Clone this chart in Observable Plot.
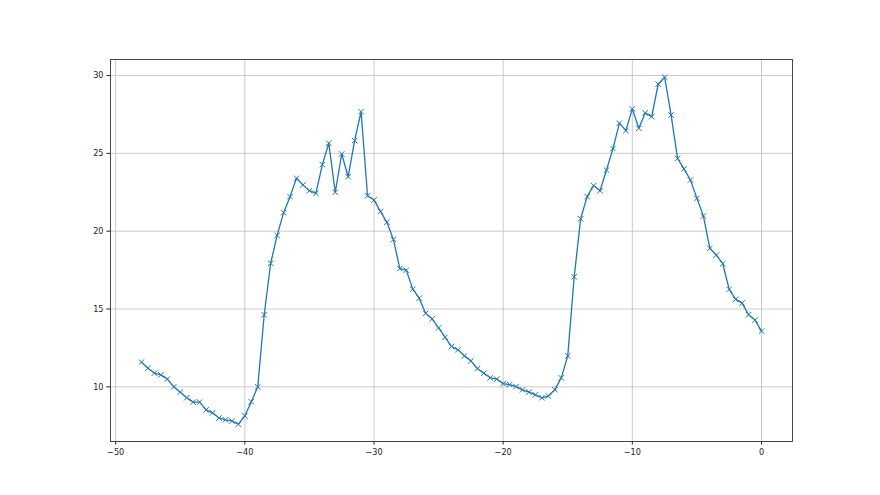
<!DOCTYPE html>
<html>
<head>
<meta charset="utf-8">
<script src="https://cdn.jsdelivr.net/npm/d3@7"></script>
<script src="https://cdn.jsdelivr.net/npm/@observablehq/plot@0.6"></script>
<style>
  html, body { margin: 0; padding: 0; background: #fff; }
  #chart { width: 880px; height: 495px; }
  #chart svg text { font-stretch: condensed; }
</style>
</head>
<body>
<div id="chart"></div>
<script>
const xValues = [
  -48, -47.5, -47, -46.5, -46, -45.5, -45, -44.5, -44, -43.5,
  -43, -42.5, -42, -41.5, -41, -40.5, -40, -39.5, -39, -38.5,
  -38, -37.5, -37, -36.5, -36, -35.5, -35, -34.5, -34, -33.5,
  -33, -32.5, -32, -31.5, -31, -30.5, -30, -29.5, -29, -28.5,
  -28, -27.5, -27, -26.5, -26, -25.5, -25, -24.5, -24, -23.5,
  -23, -22.5, -22, -21.5, -21, -20.5, -20, -19.5, -19, -18.5,
  -18, -17.5, -17, -16.5, -16, -15.5, -15, -14.5, -14, -13.5,
  -13, -12.5, -12, -11.5, -11, -10.5, -10, -9.5, -9, -8.5,
  -8, -7.5, -7, -6.5, -6, -5.5, -5, -4.5, -4, -3.5,
  -3, -2.5, -2, -1.5, -1, -0.5, 0
];
const yValues = [
  11.59, 11.2, 10.88, 10.77, 10.5, 10.0, 9.66, 9.3, 9.02, 9.02,
  8.52, 8.33, 8.0, 7.88, 7.81, 7.6, 8.14, 9.04, 10.0, 14.63,
  17.94, 19.73, 21.19, 22.22, 23.4, 22.97, 22.6, 22.43, 24.28, 25.65,
  22.5, 24.96, 23.5, 25.82, 27.68, 22.28, 22.0, 21.27, 20.57, 19.47,
  17.6, 17.5, 16.28, 15.7, 14.72, 14.37, 13.79, 13.19, 12.59, 12.38,
  11.99, 11.67, 11.18, 10.88, 10.58, 10.5, 10.21, 10.15, 10.02, 9.81,
  9.66, 9.49, 9.3, 9.41, 9.82, 10.58, 11.99, 17.07, 20.8, 22.22,
  22.93, 22.6, 23.93, 25.31, 26.94, 26.46, 27.86, 26.61, 27.6, 27.36,
  29.44, 29.89, 27.47, 24.68, 24.0, 23.29, 22.11, 20.98, 18.9, 18.47,
  17.91, 16.26, 15.62, 15.38, 14.63, 14.29, 13.58
];
const xTicks = [-50, -40, -30, -20, -10, 0];
const yTicks = [10, 15, 20, 25, 30];

const data = xValues.map((x, i) => ({x, y: yValues[i]}));
const fmt = d => (d < 0 ? "\u2212" + Math.abs(d) : String(d));
const color = "#1f77b4";

const chart = Plot.plot({
  width: 880,
  height: 495,
  marginLeft: 110,
  marginRight: 88,
  marginTop: 59,
  marginBottom: 54,
  style: {fontFamily: "'DejaVu Sans Condensed', 'DejaVu Sans', sans-serif", fontSize: "9px", background: "#fff", color: "#222"},
  x: {domain: [-50.4, 2.4], ticks: xTicks, tickFormat: fmt, label: null, tickSize: 3.5, tickPadding: 3.5},
  y: {domain: [6.49, 31.03], ticks: yTicks, tickFormat: fmt, label: null, tickSize: 3.5, tickPadding: 3.5},
  marks: [
    Plot.gridX(xTicks, {stroke: "#c4c4c4", strokeOpacity: 1, strokeWidth: 0.9}),
    Plot.gridY(yTicks, {stroke: "#c4c4c4", strokeOpacity: 1, strokeWidth: 0.9}),
    Plot.line(data, {x: "x", y: "y", stroke: color, strokeWidth: 1.3}),
    Plot.dot(data, {x: "x", y: "y", symbol: "times", r: 2.6, stroke: color, strokeWidth: 1}),
    Plot.frame({stroke: "#333", strokeWidth: 0.9})
  ]
});
document.getElementById("chart").appendChild(chart);
</script>
</body>
</html>
